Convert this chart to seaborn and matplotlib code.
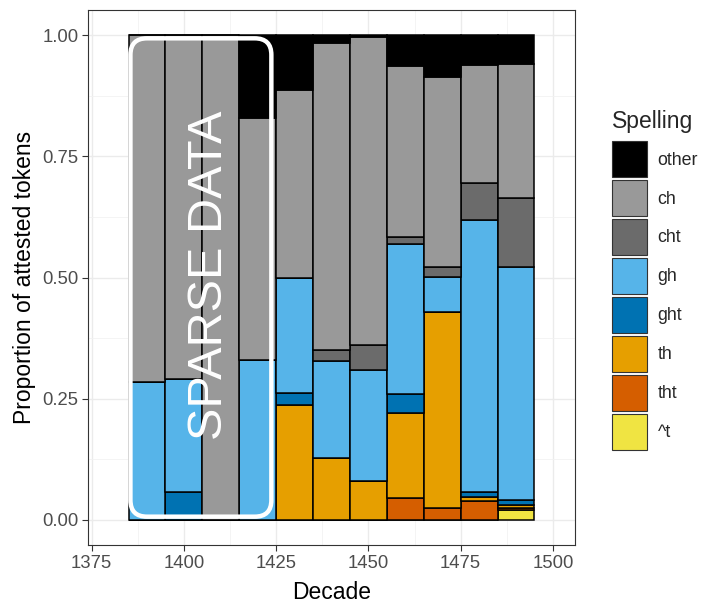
import matplotlib
matplotlib.use("Agg")
import matplotlib.pyplot as plt
from matplotlib.patches import Patch, FancyBboxPatch
from matplotlib.ticker import MultipleLocator
import pandas as pd
import seaborn as sns

sns.set_style("white")
plt.rcParams['font.family'] = ['Liberation Sans', 'DejaVu Sans']

decades = [1390, 1400, 1410, 1420, 1430, 1440, 1450, 1460, 1470, 1480, 1490]
spellings = ['other', 'ch', 'cht', 'gh', 'ght', 'th', 'tht', '^t']
colours = ['#000000', '#999999', '#6b6b6b', '#56B4E9', '#0072B2', '#E69F00', '#D55E00', '#F0E442']

# proportions per decade
p_caret_t = [0, 0, 0, 0, 0, 0, 0, 0, 0, 0, 0.019]
p_tht = [0, 0, 0, 0, 0, 0, 0, 0.045, 0.024, 0.038, 0.005]
p_th = [0, 0, 0, 0, 0.237, 0.127, 0.079, 0.175, 0.404, 0.009, 0.006]
p_ght = [0, 0.058, 0, 0, 0.024, 0, 0, 0.040, 0, 0.009, 0.011]
p_gh = [0.285, 0.233, 0, 0.330, 0.237, 0.201, 0.229, 0.310, 0.074, 0.563, 0.481]
p_cht = [0, 0, 0, 0, 0, 0.022, 0.053, 0.014, 0.020, 0.077, 0.143]
p_ch = [0.715, 0.709, 1.0, 0.499, 0.389, 0.634, 0.636, 0.352, 0.392, 0.242, 0.275]
p_other = [0, 0, 0, 0.171, 0.113, 0.016, 0.003, 0.064, 0.086, 0.062, 0.060]

cols = {'other': p_other, 'ch': p_ch, 'cht': p_cht, 'gh': p_gh,
        'ght': p_ght, 'th': p_th, 'tht': p_tht, '^t': p_caret_t}
rows = []
for sp in spellings:
  for d, v in zip(decades, cols[sp]):
    rows.append({'Decade': d, 'Spelling': sp, 'prop': v})
df = pd.DataFrame(rows)

fig = plt.figure(figsize=(7.02, 6.03), dpi=100)
ax = fig.add_axes([88/702, 1-545/603, (575-88)/702, (545-10)/603])

sns.histplot(data=df, x='Decade', weights='prop', hue='Spelling', hue_order=spellings,
             palette=colours, multiple='stack', binwidth=10, binrange=(1385, 1495),
             edgecolor='black', linewidth=1.1, alpha=1, legend=False, ax=ax)

ax.set_xlim(1374, 1506)
ax.set_ylim(-0.0525, 1.0525)
ax.xaxis.set_major_locator(MultipleLocator(25))
ax.xaxis.set_minor_locator(MultipleLocator(12.5))
ax.set_yticks([0, 0.25, 0.5, 0.75, 1.0])
ax.set_yticklabels(['0.00', '0.25', '0.50', '0.75', '1.00'])
ax.yaxis.set_minor_locator(MultipleLocator(0.125))
ax.grid(which='major', color='#EBEBEB', linewidth=1.0)
ax.grid(which='minor', color='#F2F2F2', linewidth=0.6)
ax.set_axisbelow(True)
for s in ax.spines.values():
  s.set_color('#333333')
  s.set_linewidth(0.8)
ax.tick_params(axis='both', which='major', direction='out', length=4, width=0.8,
               color='#333333', labelsize=13.3, labelcolor='#4D4D4D', pad=3,
               bottom=True, left=True)
ax.tick_params(axis='both', which='minor', length=0)
ax.set_xlabel('Decade', fontsize=16.5, color='black', labelpad=7)
ax.set_ylabel('Proportion of attested tokens', fontsize=16.5, color='black', labelpad=4)

# sparse data box
box = FancyBboxPatch((1385.5, 0.006), 38.2, 0.988,
                     boxstyle="round,pad=0,rounding_size=4.5", mutation_aspect=0.0076,
                     fill=False, edgecolor='white', linewidth=3.2, zorder=5)
ax.add_patch(box)
ax.text(1407, 0.505, 'SPARSE DATA', rotation=90, color='white', fontsize=35,
        ha='center', va='center', zorder=6)

handles = [Patch(facecolor=c, edgecolor='#333333', linewidth=0.8) for c in colours]
leg = fig.legend(handles, spellings, title='Spelling', loc='upper left',
                 bbox_to_anchor=(612/702, 1-110/603), frameon=False, fontsize=12.8,
                 title_fontsize=16.5, handlelength=1.97, handleheight=2.73,
                 labelspacing=0.17, handletextpad=0.6, borderpad=0.0, borderaxespad=0)
leg._legend_box.align = "left"
leg._legend_box.sep = 6

fig.savefig('out.png', dpi=100)
